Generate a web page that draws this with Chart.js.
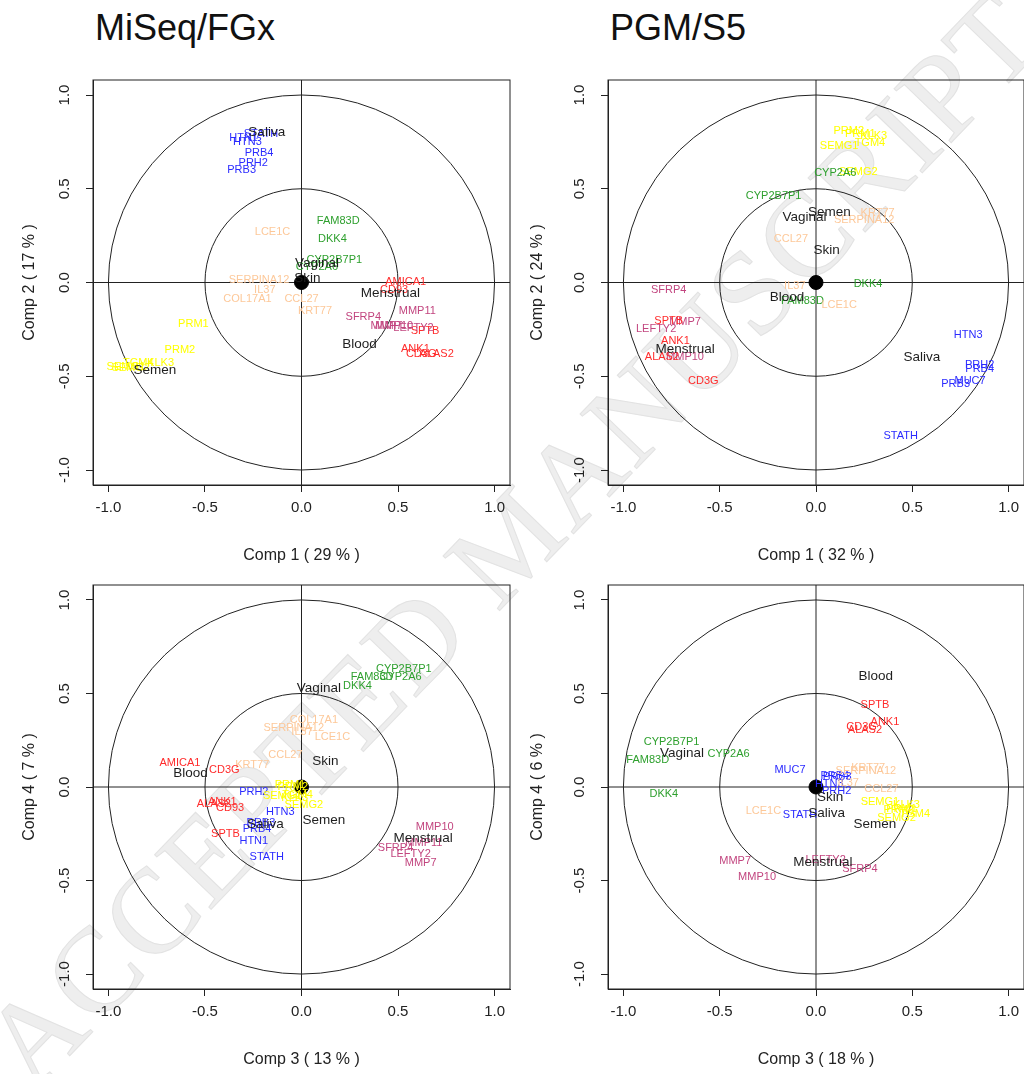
<!DOCTYPE html>
<html>
<head>
<meta charset="utf-8">
<script src="https://cdn.jsdelivr.net/npm/chart.js@4.4.1/dist/chart.umd.min.js"></script>
<style>
  html, body { margin: 0; padding: 0; background: #fff; width: 1024px; height: 1074px; overflow: hidden; position: relative; }
  canvas { position: absolute; }
  .title { position: absolute; top: 10px; font: 36px/36px "Liberation Sans", Arial, sans-serif; color: #111; white-space: nowrap; }
  .wm {
    position: absolute; left: 512px; top: 540px; white-space: nowrap;
    transform: translate(-50%, -50%) rotate(-46deg);
    font: 120px "Liberation Serif", "DejaVu Serif", serif; letter-spacing: 2px;
    color: #eeeeee; -webkit-text-stroke: 1px #e2e2e2;
  }
</style>
</head>
<body>
<div class="wm">ACCEPTED MANUSCRIPT</div>
<div class="title" style="left:95px">MiSeq/FGx</div>
<div class="title" style="left:610px">PGM/S5</div>
<canvas id="c12miseq" width="530" height="509" style="left:0;top:60px"></canvas>
<canvas id="c12pgm" width="529" height="509" style="left:515px;top:60px"></canvas>
<canvas id="c34miseq" width="530" height="508" style="left:0;top:565px"></canvas>
<canvas id="c34pgm" width="529" height="508" style="left:515px;top:565px"></canvas>
<script>
const TICK_VALUES = [-1, -0.5, 0, 0.5, 1];
const CIRCLE_RADII = [1, 0.5];
const AXIS_LIMIT = 1.08;

const GROUPS = ["Blood", "Menstrual", "Saliva", "Semen", "Skin", "Vaginal"];
const SALIVA_GENES = ["HTN1", "HTN3", "STATH", "PRB3", "PRB4", "PRH2", "MUC7"];
const BLOOD_GENES = ["AMICA1", "CD93", "SPTB", "ANK1", "CD3G", "ALAS2"];
const MENSTRUAL_GENES = ["SFRP4", "MMP11", "MMP10", "MMP7", "LEFTY2"];
const SEMEN_GENES = ["PRM1", "PRM2", "TGM4", "KLK3", "SEMG1", "SEMG2"];
const SKIN_GENES = ["LCE1C", "SERPINA12", "IL37", "COL17A1", "CCL27", "KRT77"];
const VAGINAL_GENES = ["FAM83D", "DKK4", "CYP2B7P1", "CYP2A6"];

// MiSeq/FGx, Comp 1 vs Comp 2
const MISEQ12_NAMES = ["HTN1", "HTN3", "STATH", "PRB4", "PRH2", "PRB3", "LCE1C", "SERPINA12", "IL37", "COL17A1", "CCL27", "KRT77",
  "FAM83D", "DKK4", "CYP2B7P1", "CYP2A6", "AMICA1", "CD93", "SPTB", "ANK1", "CD3G", "ALAS2",
  "SFRP4", "MMP11", "MMP10", "MMP7", "LEFTY2", "PRM1", "PRM2", "TGM4", "KLK3", "SEMG1", "SEMG2",
  "Saliva", "Skin", "Vaginal", "Blood", "Menstrual", "Semen"];
const MISEQ12_X = [-0.30, -0.28, -0.21, -0.22, -0.25, -0.31, -0.15, -0.22, -0.19, -0.28, 0.0, 0.07,
  0.19, 0.16, 0.17, 0.08, 0.54, 0.48, 0.64, 0.59, 0.62, 0.70,
  0.32, 0.60, 0.48, 0.44, 0.58, -0.56, -0.63, -0.845, -0.73, -0.91, -0.885,
  -0.18, 0.03, 0.08, 0.30, 0.46, -0.76];
const MISEQ12_Y = [0.77, 0.75, 0.79, 0.69, 0.64, 0.60, 0.27, 0.015, -0.04, -0.09, -0.09, -0.15,
  0.33, 0.23, 0.12, 0.085, 0.005, -0.04, -0.26, -0.355, -0.38, -0.38,
  -0.185, -0.15, -0.23, -0.23, -0.24, -0.22, -0.36, -0.43, -0.43, -0.45, -0.455,
  0.80, 0.02, 0.10, -0.33, -0.06, -0.47];

// PGM/S5, Comp 1 vs Comp 2
const PGM12_NAMES = ["PRM2", "PRM1", "KLK3", "TGM4", "SEMG1", "SEMG2", "CYP2A6", "CYP2B7P1", "DKK4", "FAM83D",
  "KRT77", "SERPINA12", "CCL27", "IL37", "LCE1C", "SFRP4", "MMP7", "LEFTY2", "MMP10",
  "SPTB", "ANK1", "ALAS2", "CD3G", "HTN3", "PRH2", "PRB4", "MUC7", "PRB3", "STATH",
  "Semen", "Vaginal", "Skin", "Menstrual", "Blood", "Saliva"];
const PGM12_X = [0.17, 0.23, 0.30, 0.28, 0.12, 0.22, 0.10, -0.22, 0.27, -0.07,
  0.32, 0.25, -0.13, -0.11, 0.12, -0.765, -0.68, -0.83, -0.68,
  -0.765, -0.73, -0.80, -0.585, 0.79, 0.85, 0.85, 0.80, 0.725, 0.44,
  0.07, -0.06, 0.055, -0.68, -0.15, 0.55];
const PGM12_Y = [0.81, 0.79, 0.78, 0.745, 0.73, 0.59, 0.585, 0.46, -0.01, -0.10,
  0.37, 0.335, 0.23, -0.02, -0.12, -0.04, -0.21, -0.25, -0.395,
  -0.205, -0.31, -0.395, -0.525, -0.28, -0.44, -0.46, -0.525, -0.54, -0.82,
  0.375, 0.35, 0.17, -0.357, -0.08, -0.40];

// MiSeq/FGx, Comp 3 vs Comp 4
const MISEQ34_NAMES = ["CYP2B7P1", "CYP2A6", "FAM83D", "DKK4", "COL17A1", "SERPINA12", "IL37", "LCE1C", "CCL27", "KRT77",
  "AMICA1", "CD3G", "ALAS2", "ANK1", "CD93", "SPTB", "PRH2", "HTN3", "PRB3", "PRB4", "HTN1", "STATH",
  "PRM1", "PRM2", "SEMG1", "TGM4", "KLK3", "SEMG2", "MMP10", "MMP11", "SFRP4", "LEFTY2", "MMP7",
  "Vaginal", "Skin", "Blood", "Saliva", "Semen", "Menstrual"];
const MISEQ34_X = [0.53, 0.513, 0.366, 0.29, 0.064, -0.04, 0.003, 0.16, -0.083, -0.255,
  -0.63, -0.40, -0.454, -0.41, -0.37, -0.394, -0.247, -0.11, -0.21, -0.23, -0.247, -0.18,
  -0.06, -0.045, -0.10, -0.02, -0.035, 0.012, 0.69, 0.634, 0.487, 0.565, 0.617,
  0.09, 0.124, -0.575, -0.187, 0.116, 0.63];
const MISEQ34_Y = [0.633, 0.59, 0.587, 0.54, 0.36, 0.313, 0.295, 0.268, 0.17, 0.117,
  0.13, 0.09, -0.089, -0.08, -0.11, -0.252, -0.025, -0.132, -0.194, -0.226, -0.29, -0.373,
  0.01, 0.0, -0.048, -0.04, -0.06, -0.096, -0.212, -0.297, -0.324, -0.356, -0.407,
  0.53, 0.135, 0.076, -0.199, -0.176, -0.276];

// PGM/S5, Comp 3 vs Comp 4
const PGM34_NAMES = ["CYP2B7P1", "CYP2A6", "FAM83D", "DKK4", "MUC7", "PRB4", "PRB3", "HTN3", "PRH2", "STATH",
  "SPTB", "ANK1", "CD3G", "ALAS2", "KRT77", "SERPINA12", "IL37", "CCL27", "LCE1C",
  "SEMG1", "KLK3", "PRM1", "PRM2", "TGM4", "SEMG2", "MMP7", "MMP10", "LEFTY2", "SFRP4",
  "Vaginal", "Saliva", "Blood", "Skin", "Semen", "Menstrual"];
const PGM34_X = [-0.75, -0.454, -0.874, -0.79, -0.135, 0.098, 0.11, 0.069, 0.107, -0.083,
  0.306, 0.358, 0.237, 0.254, 0.271, 0.259, 0.167, 0.34, -0.273,
  0.332, 0.47, 0.444, 0.43, 0.513, 0.418, -0.42, -0.306, 0.05, 0.228,
  -0.696, 0.055, 0.31, 0.073, 0.306, 0.036];
const PGM34_Y = [0.242, 0.174, 0.144, -0.036, 0.089, 0.059, 0.055, 0.018, -0.021, -0.149,
  0.436, 0.347, 0.32, 0.304, 0.10, 0.085, 0.023, -0.012, -0.128,
  -0.08, -0.096, -0.119, -0.125, -0.146, -0.164, -0.395, -0.48, -0.39, -0.437,
  0.178, -0.142, 0.592, -0.057, -0.199, -0.405];

const FONT = '"Liberation Sans", Arial, sans-serif';

function tissueColor(name) {
  if (SALIVA_GENES.includes(name)) return "#2b2bff";
  if (BLOOD_GENES.includes(name)) return "#ff2b2b";
  if (MENSTRUAL_GENES.includes(name)) return "#c2457f";
  if (SEMEN_GENES.includes(name)) return "#ffff00";
  if (SKIN_GENES.includes(name)) return "#fdc899";
  if (VAGINAL_GENES.includes(name)) return "#2ea02e";
  return "#1e1e1e";
}

const circlePlugin = {
  id: "circlePlugin",
  beforeDatasetsDraw(chart) {
    const { ctx, chartArea: a, scales: { x, y } } = chart;
    const cx = x.getPixelForValue(0);
    const cy = y.getPixelForValue(0);
    ctx.save();
    ctx.strokeStyle = "#222";
    ctx.lineWidth = 1;
    for (const r of CIRCLE_RADII) {
      ctx.beginPath();
      ctx.ellipse(cx, cy, Math.abs(x.getPixelForValue(r) - cx), Math.abs(y.getPixelForValue(r) - cy), 0, 0, Math.PI * 2);
      ctx.stroke();
    }
    ctx.beginPath();
    ctx.moveTo(cx, a.top);
    ctx.lineTo(cx, a.bottom);
    ctx.moveTo(a.left, cy);
    ctx.lineTo(a.right, cy);
    ctx.stroke();
    ctx.strokeRect(a.left, a.top, a.right - a.left, a.bottom - a.top);
    ctx.restore();
  },
  afterDatasetsDraw(chart) {
    const { ctx } = chart;
    const names = chart.data.datasets[0].names;
    const meta = chart.getDatasetMeta(0);
    ctx.save();
    ctx.textAlign = "center";
    ctx.textBaseline = "middle";
    // genes first, tissue names on top
    for (const pass of [false, true]) {
      meta.data.forEach((pt, i) => {
        const isGroup = GROUPS.includes(names[i]);
        if (isGroup !== pass) return;
        ctx.font = isGroup ? `13.5px ${FONT}` : `11px ${FONT}`;
        ctx.fillStyle = tissueColor(names[i]);
        ctx.fillText(names[i], pt.x, pt.y);
      });
    }
    ctx.restore();
  },
};

function axis(titleText, titlePadding, isY) {
  return {
    type: "linear",
    min: -AXIS_LIMIT,
    max: AXIS_LIMIT,
    afterBuildTicks: (s) => { s.ticks = TICK_VALUES.map((v) => ({ value: v })); },
    afterFit: (s) => { if (isY) s.width = 93; else s.height = 84; },
    ticks: {
      callback: (v) => Number(v).toFixed(1),
      color: "#222",
      font: { family: FONT, size: 15 },
      padding: isY ? 8 : 16,
      minRotation: isY ? 90 : 0,
      maxRotation: isY ? 90 : 0,
      crossAlign: "center",
    },
    grid: { display: true, drawOnChartArea: false, drawTicks: true, tickLength: 7, color: "#222" },
    border: { display: true, color: "#222" },
    title: { display: true, text: titleText, color: "#222", font: { family: FONT, size: 16 }, padding: titlePadding },
  };
}

function makePanel(id, names, xs, ys, xTitle, yTitle, yTitlePad) {
  new Chart(document.getElementById(id), {
    type: "scatter",
    data: {
      datasets: [
        { names, data: names.map((n, i) => ({ x: xs[i], y: ys[i] })), pointRadius: 0, pointHoverRadius: 0 },
        { data: [{ x: 0, y: 0 }], pointRadius: 7, backgroundColor: "#000", borderColor: "#000" },
      ],
    },
    options: {
      responsive: false,
      animation: false,
      events: [],
      layout: { padding: { top: 20, right: 20, left: 0, bottom: 0 } },
      plugins: { legend: { display: false }, tooltip: { enabled: false } },
      scales: {
        x: axis(xTitle, { top: 0, bottom: 4 }, false),
        y: axis(yTitle, { top: yTitlePad, bottom: 0 }, true),
      },
    },
    plugins: [circlePlugin],
  });
}

makePanel("c12miseq", MISEQ12_NAMES, MISEQ12_X, MISEQ12_Y, "Comp 1 ( 29 % )", "Comp 2 ( 17 % )", 20);
makePanel("c12pgm", PGM12_NAMES, PGM12_X, PGM12_Y, "Comp 1 ( 32 % )", "Comp 2 ( 24 % )", 13);
makePanel("c34miseq", MISEQ34_NAMES, MISEQ34_X, MISEQ34_Y, "Comp 3 ( 13 % )", "Comp 4 ( 7 % )", 20);
makePanel("c34pgm", PGM34_NAMES, PGM34_X, PGM34_Y, "Comp 3 ( 18 % )", "Comp 4 ( 6 % )", 13);
</script>
</body>
</html>
